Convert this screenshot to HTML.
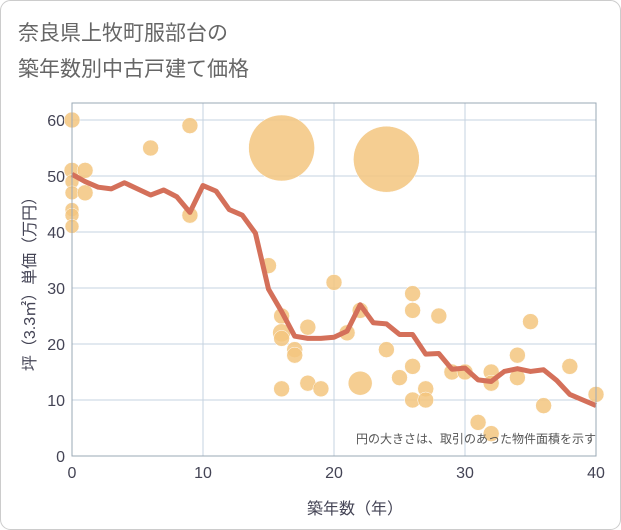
<!DOCTYPE html>
<html><head><meta charset="utf-8"><style>
body{margin:0;background:#fff;}
svg{display:block;font-family:"Liberation Sans","Noto Sans CJK JP",sans-serif;}
</style></head><body>
<svg id="chart" width="621" height="530">
<rect x="0.5" y="0.5" width="620" height="529" rx="10" fill="#fff" stroke="#ccc"/>
<text x="18" y="40" font-size="21" fill="#666">奈良県上牧町服部台の</text>
<text x="18" y="76" font-size="21" fill="#666">築年数別中古戸建て価格</text>
<g id="grid"></g><g id="pts"></g><g id="line"></g><g id="axes"></g>
<text x="596" y="443" font-size="12" fill="#555" text-anchor="end">円の大きさは、取引のあった物件面積を示す</text>
<text x="355" y="514" font-size="16" fill="#445" text-anchor="middle">築年数（年）</text>
<text transform="translate(35,280) rotate(-90)" font-size="16" fill="#445" text-anchor="middle">坪（3.3㎡）単価（万円）</text>
</svg>
<script>
const xTicks=[0,10,20,30,40];
const yTicks=[0,10,20,30,40,50,60];
const lineYears=[0,1,2,3,4,5,6,7,8,9,10,11,12,13,14,15,16,17,18,19,20,21,22,23,24,25,26,27,28,29,30,31,32,33,34,35,36,37,38,39,40];
const lineValues=[50.3,49,48,47.7,48.8,47.7,46.6,47.5,46.3,43.5,48.3,47.3,44,43,39.8,29.8,25.8,21.4,21,21,21.2,22.3,27,23.8,23.6,21.7,21.7,18.2,18.3,15.5,15.7,13.6,13.3,15.1,15.6,15.1,15.4,13.5,11,10,9];
const ptX=[0,0,0,0,0,0,0,1,1,6,9,9,16,24,15,16,16,16,17,17,18,16,18,19,20,21,22,22,24,25,26,26,26,26,27,27,28,29,30,31,32,32,32,35,34,34,36,38,40];
const ptY=[60,51,49,47,44,43,41,51,47,55,59,43,55,53,34,25,22,21,19,18,23,12,13,12,31,22,26,13,19,14,29,26,16,10,12,10,25,15,15,6,15,13,4,24,18,14,9,16,11];
const ptR=[8,8,7,7,7,7,7,8,8,8,8,8,33,33,8,8,9,8,8,8,8,8,8,8,8,8,8,12,8,8,8,8,8,8,8,8,8,8,8,8,8,8,8,8,8,8,8,8,8];
const NS="http://www.w3.org/2000/svg";
const X0=72,X1=596,Y0=456,Y1=120,TOP=103;
const sx=v=>X0+(X1-X0)*v/40, sy=v=>Y0-(Y0-Y1)*v/60;
function mk(t,a,p){const e=document.createElementNS(NS,t);for(const k in a)e.setAttribute(k,a[k]);p.appendChild(e);return e;}
const g=document.getElementById('grid');
yTicks.forEach(v=>{const l=mk('line',{x1:X0,x2:X1,y1:sy(v),y2:sy(v),stroke:'#c5d3e0','stroke-width':1},g);


const t=mk('text',{x:X0-7,y:sy(v)+6,'font-size':16,fill:'#445','text-anchor':'end'},g);t.textContent=v;

});
xTicks.forEach(v=>{const l=mk('line',{x1:sx(v),x2:sx(v),y1:TOP,y2:Y0,stroke:'#c5d3e0','stroke-width':1},g);


const t=mk('text',{x:sx(v),y:Y0+22,'font-size':16,fill:'#445','text-anchor':'middle'},g);t.textContent=v;

});
const fr=mk('rect',{x:X0,y:TOP,width:X1-X0,height:Y0-TOP,fill:'none',stroke:'#9aa8b5','stroke-width':1},document.getElementById('axes'));


const pg=document.getElementById('pts');
ptX.forEach((x,i)=>{const c=mk('circle',{cx:sx(x),cy:sy(ptY[i]),r:ptR[i],fill:'#f3c67f','fill-opacity':0.85,stroke:'#fff','stroke-width':0.5},pg);

});
const p=mk('polyline',{points:lineYears.map((x,i)=>sx(x)+','+sy(lineValues[i])).join(' '),fill:'none',stroke:'#d4705a','stroke-width':5,'stroke-linejoin':'round'},document.getElementById('line'));


</script>
</body></html>
